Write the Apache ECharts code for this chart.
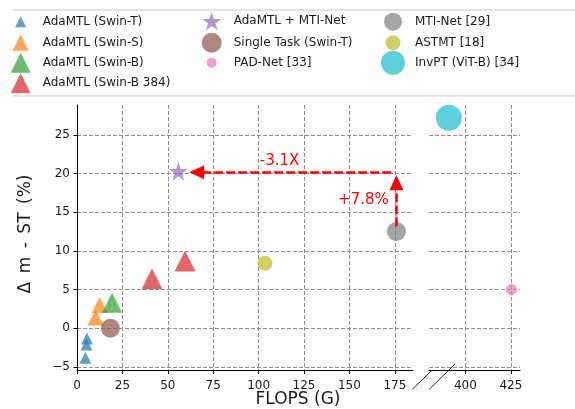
<!DOCTYPE html>
<html><head><meta charset="utf-8">
<script src="https://cdn.jsdelivr.net/npm/echarts@6/dist/echarts.min.js"></script>
<style>html,body{margin:0;padding:0;background:#fff}#c{width:575px;height:409px}</style>
</head><body><div id="c"></div>
<script>
// ---- data (FLOPS G, delta m - ST %) ----
const swinT = [[5.5, -1.3], [5.2, -2.1], [4.6, -3.8]];
const swinS = [[10.3, 1.4], [12.5, 3.0]];
const swinB = [[19.3, 3.3]];
const swinB384 = [[41.3, 6.4], [59.5, 8.7]];
const adaMtiNet = [[55.8, 20.3]];
const singleTask = [[18.4, 0.0]];
const padNet = [[425.3, 5.0]];
const mtiNet = [[175.9, 12.5]];
const astmt = [[103.5, 8.4]];
const invpt = [[390.9, 27.2]];
const xTicksLeft = [0, 25, 50, 75, 100, 125, 150, 175];
const xTicksRight = [400, 425];
const yTicks = [-5, 0, 5, 10, 15, 20, 25];
const arrowH = [[173, 20.15], [65.9, 20.15]];
const arrowV = [[175.9, 13.2], [175.9, 18.8]];
const noteSpeed = { text: '-3.1X', at: [111.5, 21.65] };
const noteGain = { text: '+7.8%', at: [157.7, 16.6] };

const FONT = 'DejaVu Sans';
const TXT = '#1a1a1a';
const STAR = 'path://M100,0L122.45,69.1L195.11,69.1L136.33,111.8L158.78,180.9L100,138.2L41.22,180.9L63.67,111.8L4.89,69.1L77.55,69.1Z';

const defs = [
  { name: 'AdaMTL (Swin-T)', data: swinT, symbol: 'triangle', size: 12, color: '#1f77b4', g: 0, lg: 11, col: 0, row: 0 },
  { name: 'AdaMTL (Swin-S)', data: swinS, symbol: 'triangle', size: 16, color: '#ff7f0e', g: 0, lg: 16, col: 0, row: 1 },
  { name: 'AdaMTL (Swin-B)', data: swinB, symbol: 'triangle', size: 20, color: '#2ca02c', g: 0, lg: 20, col: 0, row: 2 },
  { name: 'AdaMTL (Swin-B 384)', data: swinB384, symbol: 'triangle', size: 21, color: '#d62728', g: 0, lg: 20, col: 0, row: 3 },
  { name: 'AdaMTL + MTI-Net', data: adaMtiNet, symbol: STAR, size: 19, color: '#9467bd', g: 0, lg: 19, col: 1, row: 0 },
  { name: 'Single Task (Swin-T)', data: singleTask, symbol: 'circle', size: 19, color: '#8c564b', g: 0, lg: 20, col: 1, row: 1 },
  { name: 'PAD-Net [33]', data: padNet, symbol: 'circle', size: 11, color: '#e377c2', g: 1, lg: 10, col: 1, row: 2 },
  { name: 'MTI-Net [29]', data: mtiNet, symbol: 'circle', size: 19, color: '#7f7f7f', g: 0, lg: 18, col: 2, row: 0 },
  { name: 'ASTMT [18]', data: astmt, symbol: 'circle', size: 15, color: '#bcbd22', g: 0, lg: 15, col: 2, row: 1 },
  { name: 'InvPT (ViT-B) [34]', data: invpt, symbol: 'circle', size: 26, color: '#17becf', g: 1, lg: 24, col: 2, row: 2 }
];

const colX = [20.7, 211.7, 393];
const rowY = [21.7, 42.7, 62.7, 83.3];
const HALF = 17; // distance from icon centre to text start minus 5

const series = defs.map(d => ({
  type: 'scatter', name: d.name, data: d.data,
  xAxisIndex: d.g, yAxisIndex: d.g,
  symbol: d.symbol, symbolSize: d.size,
  itemStyle: { color: d.color, opacity: 0.7 },
  emphasis: { disabled: true },
  animation: false
}));

// arrows on MTI-Net series
const mti = series[7];
mti.markLine = {
  silent: true, animation: false,
  symbol: ['none', 'triangle'], symbolSize: [14, 15],
  label: { show: false },
  emphasis: { disabled: true },
  lineStyle: { color: '#ff0000', width: 2.5, type: [9, 3], opacity: 1 },
  data: [
    [{ coord: arrowH[0] }, { coord: arrowH[1] }],
    [{ coord: arrowV[0] }, { coord: arrowV[1] }]
  ]
};

const legends = defs.map(d => ({
  selectedMode: false,
  orient: 'horizontal',
  padding: 0,
  itemWidth: d.lg, itemHeight: d.lg,
  left: colX[d.col] - d.lg / 2,
  top: rowY[d.row] - Math.max(d.lg, 12) / 2,
  textStyle: { fontFamily: FONT, fontSize: 12, color: TXT, padding: [0, 0, 0, HALF - d.lg / 2] },
  data: [{ name: d.name, icon: d.symbol, itemStyle: { color: d.color, opacity: 0.7 } }]
}));

const gridLine = { show: true, lineStyle: { color: '#8f8f8f', width: 1, type: [4, 2] } };
const tickStyle = { lineStyle: { color: '#000', width: 1 } };
const lbl = { fontFamily: FONT, fontSize: 12, color: TXT };
const minus = v => (v < 0 ? '\u2212' + Math.abs(v) : String(v));

const option = {
  backgroundColor: '#fff',
  animation: false,
  legend: legends,
  grid: [
    { left: 77, top: 105, width: 336, height: 265.5 },
    { left: 429, top: 105, width: 91, height: 265.5 }
  ],
  xAxis: [
    { gridIndex: 0, type: 'value', min: 0, max: 185,
      axisLine: { show: true, onZero: false, lineStyle: { color: '#000', width: 1 } },
      axisTick: Object.assign({ show: true, length: 3.5, inside: false, customValues: xTicksLeft }, tickStyle),
      axisLabel: Object.assign({ customValues: xTicksLeft, margin: 9 }, lbl),
      splitLine: gridLine },
    { gridIndex: 1, type: 'value', min: 380, max: 430,
      axisLine: { show: true, onZero: false, lineStyle: { color: '#000', width: 1 } },
      axisTick: Object.assign({ show: true, length: 3.5, inside: false, customValues: xTicksRight }, tickStyle),
      axisLabel: Object.assign({ customValues: xTicksRight, margin: 9 }, lbl),
      splitLine: gridLine }
  ],
  yAxis: [
    { gridIndex: 0, type: 'value', min: -5.45, max: 28.85,
      axisLine: { show: true, onZero: false, lineStyle: { color: '#000', width: 1 } },
      axisTick: Object.assign({ show: true, length: 3.5, inside: false, customValues: yTicks }, tickStyle),
      axisLabel: Object.assign({ customValues: yTicks, margin: 7, formatter: minus }, lbl),
      splitLine: gridLine },
    { gridIndex: 1, type: 'value', min: -5.45, max: 28.85,
      axisLine: { show: false },
      axisTick: { show: false, customValues: yTicks },
      axisLabel: { show: false, customValues: yTicks },
      splitLine: gridLine }
  ],
  series: series
};

const chart = echarts.init(document.getElementById('c'), null, { renderer: 'canvas' });
chart.setOption(option);

const p1 = chart.convertToPixel({ gridIndex: 0 }, noteSpeed.at);
const p2 = chart.convertToPixel({ gridIndex: 0 }, noteGain.at);

chart.setOption({
  graphic: [
    { type: 'line', silent: true, shape: { x1: 13, y1: 10, x2: 575, y2: 10 }, style: { stroke: '#e3e3e3', lineWidth: 2 } },
    { type: 'line', silent: true, shape: { x1: 13, y1: 95.7, x2: 575, y2: 95.7 }, style: { stroke: '#e3e3e3', lineWidth: 2 } },
    { type: 'line', silent: true, shape: { x1: 412.3, y1: 389.3, x2: 432.3, y2: 370 }, style: { stroke: '#222', lineWidth: 1 } },
    { type: 'line', silent: true, shape: { x1: 429.3, y1: 389.3, x2: 455, y2: 364 }, style: { stroke: '#222', lineWidth: 1 } },
    { type: 'text', silent: true, x: 298, y: 400, style: { text: 'FLOPS (G)', font: '17px "DejaVu Sans"', fill: TXT, align: 'center', verticalAlign: 'middle' } },
    { type: 'text', silent: true, x: 26, y: 234, rotation: Math.PI / 2, style: { text: '\u0394\u2002m\u2002-\u2002ST\u2002(%)', font: '17px "DejaVu Sans"', fill: TXT, align: 'center', verticalAlign: 'middle' } },
    { type: 'text', silent: true, x: p1[0], y: p1[1], style: { text: noteSpeed.text, font: '15px "DejaVu Sans"', fill: '#ff0000', align: 'center', verticalAlign: 'middle' } },
    { type: 'text', silent: true, x: p2[0], y: p2[1], style: { text: noteGain.text, font: '15px "DejaVu Sans"', fill: '#ff0000', align: 'center', verticalAlign: 'middle' } }
  ]
});
</script>
</body></html>
